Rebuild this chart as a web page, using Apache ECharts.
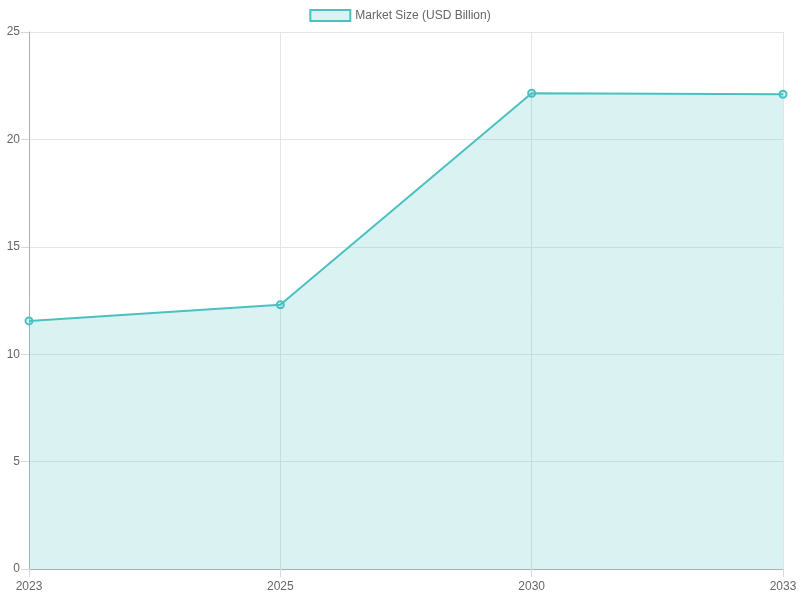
<!DOCTYPE html>
<html><head><meta charset="utf-8">
<script src="https://cdn.jsdelivr.net/npm/echarts@6/dist/echarts.min.js"></script>
<style>html,body{margin:0;padding:0;background:#fff}#c{width:800px;height:600px}</style>
</head><body><div id="c"></div>
<script>
const years = ['2023', '2025', '2030', '2033'];
const marketSize = [11.55, 12.3, 22.15, 22.1];
const seriesName = 'Market Size (USD Billion)';
const yTicks = { min: 0, max: 25, interval: 5 };

const teal = 'rgb(75,192,192)';
const tealFill = 'rgba(75,192,192,0.2)';
const chart = echarts.init(document.getElementById('c'));
chart.setOption({
  animation: false,
  textStyle: { fontFamily: 'Liberation Sans, Arial, sans-serif' },
  legend: {
    top: 4, left: 'center',
    itemWidth: 40, itemHeight: 11, itemGap: 10,
    icon: 'rect',
    textStyle: { color: '#666', fontSize: 12, fontFamily: 'Liberation Sans, Arial, sans-serif' },
    data: [{ name: seriesName, icon: 'rect', itemStyle: { color: tealFill, borderColor: teal, borderWidth: 2 } }]
  },
  grid: { left: 29, right: 17, top: 32, bottom: 31, containLabel: false },
  xAxis: {
    type: 'category', data: years, boundaryGap: false,
    axisLine: { lineStyle: { color: '#b0b0b0' } },
    axisTick: { show: true, length: 8, lineStyle: { color: '#d8d8d8' } },
    axisLabel: { color: '#666', fontSize: 12, margin: 12 },
    splitLine: { show: true, lineStyle: { color: '#e5e5e5' } }
  },
  yAxis: {
    type: 'value', min: yTicks.min, max: yTicks.max, interval: yTicks.interval,
    axisLine: { show: true, lineStyle: { color: '#b0b0b0' } },
    axisTick: { show: true, length: 8, lineStyle: { color: '#d8d8d8' } },
    axisLabel: { color: '#666', fontSize: 12, margin: 9 },
    splitLine: { show: true, lineStyle: { color: '#e5e5e5' } }
  },
  series: [{
    name: seriesName, type: 'line', data: marketSize,
    symbol: 'circle', symbolSize: 7, showSymbol: true,
    lineStyle: { color: teal, width: 2 },
    itemStyle: { color: tealFill, borderColor: teal, borderWidth: 2 },
    areaStyle: { color: tealFill, opacity: 1, origin: 'start' }
  }]
});
</script></body></html>
